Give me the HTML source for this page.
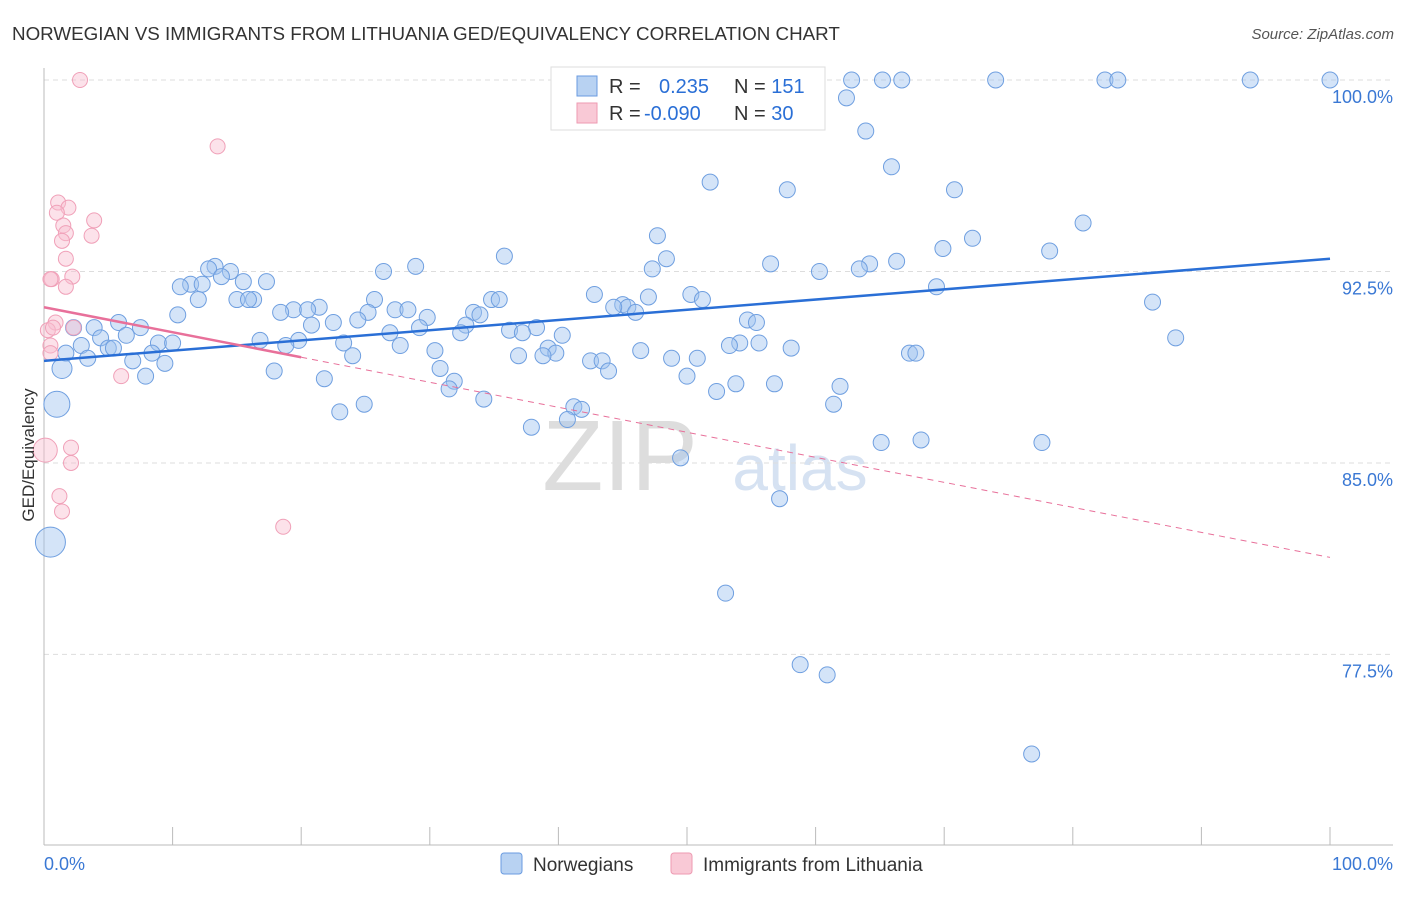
<!DOCTYPE html>
<html><head><meta charset="utf-8"><style>
body{margin:0;background:#fff;font-family:"Liberation Sans",sans-serif;}
svg text{font-family:"Liberation Sans",sans-serif;}
</style></head><body>
<svg id="c" width="1406" height="892">
<text x="12" y="40" font-size="18.8" fill="#333">NORWEGIAN VS IMMIGRANTS FROM LITHUANIA GED/EQUIVALENCY CORRELATION CHART</text>
<text x="1394" y="39" font-size="15" fill="#555" text-anchor="end" font-style="italic">Source: ZipAtlas.com</text>
<text x="620" y="490" font-size="100" fill="#ddd" text-anchor="middle" font-family="Liberation Serif">ZIP</text>
<text x="800" y="490" font-size="64" fill="#d6e2f2" text-anchor="middle">atlas</text>
<g id="grid"></g><g id="axes"></g><g id="pts"></g><g id="lines"></g>
<text transform="translate(34,455) rotate(-90)" font-size="17" fill="#333" text-anchor="middle">GED/Equivalency</text>
<g>
<rect x="551" y="67" width="274" height="63" fill="#fff" stroke="#ddd"/>
<rect x="577" y="76" width="20" height="20" fill="#b8d2f2" stroke="#6a9be0"/>
<rect x="577" y="103" width="20" height="20" fill="#f9c9d6" stroke="#ee9ab2"/>
<text x="609" y="93" font-size="20" fill="#333">R = <tspan fill="#2a6fd6" x="659">0.235</tspan><tspan x="734" fill="#333">N = </tspan><tspan fill="#2a6fd6">151</tspan></text>
<text x="609" y="120" font-size="20" fill="#333">R = <tspan fill="#2a6fd6" x="644">-0.090</tspan><tspan x="734" fill="#333">N = </tspan><tspan fill="#2a6fd6"> 30</tspan></text>
</g>
<g>
<rect x="501" y="853" width="21" height="21" rx="3" fill="#b8d2f2" stroke="#6a9be0"/>
<text x="533" y="871" font-size="19" fill="#333">Norwegians</text>
<rect x="671" y="853" width="21" height="21" rx="3" fill="#f9c9d6" stroke="#ee9ab2"/>
<text x="703" y="871" font-size="19" fill="#333">Immigrants from Lithuania</text>
</g>
</svg>
<script>
const yTicks=[100,92.5,85,77.5];
const yTickLabels=["100.0%","92.5%","85.0%","77.5%"];
const blueX=[60.1,62.8,65.2,66.7,74.0,82.5,83.5,93.8,100,62.4,63.9,65.9,51.8,57.8,70.8,80.8,47.7,72.2,69.9,78.2,35.8,48.4,66.3,56.5,64.2,63.4,47.3,28.9,13.3,12.8,14.5,26.4,60.3,13.8,17.3,15.5,11.4,10.6,12.3,69.4,42.8,50.3,47.0,51.2,15.0,16.3,15.9,12.0,25.7,34.8,35.4,86.2,21.4,19.4,20.5,45.0,45.4,44.3,46.0,18.4,25.2,27.3,28.3,33.4,33.9,10.4,29.8,54.7,55.4,24.4,22.5,5.8,7.5,3.9,20.8,29.2,32.8,2.3,26.9,32.4,38.3,36.2,37.2,40.3,4.4,6.4,16.8,19.8,23.3,27.7,55.6,54.1,53.3,88.0,58.1,18.8,8.9,10.0,2.9,5.0,5.4,46.4,39.2,39.8,8.4,1.7,30.4,24.0,36.9,38.8,3.4,48.8,50.8,67.3,67.8,6.9,9.4,42.5,43.4,1.4,17.9,30.8,43.9,7.9,21.8,50.0,31.9,53.8,56.8,31.5,52.3,61.9,34.2,1.0,24.9,61.4,41.2,23.0,41.8,40.7,37.9,65.1,68.2,77.6,49.5,57.2,0.5,53.0,58.8,60.9,76.8];
const blueY=[100,100,100,100,100,100,100,100,100,99.3,98.0,96.6,96.0,95.7,95.7,94.4,93.9,93.8,93.4,93.3,93.1,93.0,92.9,92.8,92.8,92.6,92.6,92.7,92.7,92.6,92.5,92.5,92.5,92.3,92.1,92.1,92.0,91.9,92.0,91.9,91.6,91.6,91.5,91.4,91.4,91.4,91.4,91.4,91.4,91.4,91.4,91.3,91.1,91.0,91.0,91.2,91.1,91.1,90.9,90.9,90.9,91.0,91.0,90.9,90.8,90.8,90.7,90.6,90.5,90.6,90.5,90.5,90.3,90.3,90.4,90.3,90.4,90.3,90.1,90.1,90.3,90.2,90.1,90.0,89.9,90.0,89.8,89.8,89.7,89.6,89.7,89.7,89.6,89.9,89.5,89.6,89.7,89.7,89.6,89.5,89.5,89.4,89.5,89.3,89.3,89.3,89.4,89.2,89.2,89.2,89.1,89.1,89.1,89.3,89.3,89.0,88.9,89.0,89.0,88.7,88.6,88.7,88.6,88.4,88.3,88.4,88.2,88.1,88.1,87.9,87.8,88.0,87.5,87.3,87.3,87.3,87.2,87.0,87.1,86.7,86.4,85.8,85.9,85.8,85.2,83.6,81.9,79.9,77.1,76.7,73.6];
const blueSizeIdx=[119,133,146];const blueSizes=[10,13,15];
const pinkX=[2.8,13.5,1.1,1.9,1.0,3.9,1.5,1.7,3.7,1.4,1.7,0.6,2.2,1.7,0.9,0.3,2.3,0.5,0.5,6.0,0.1,2.1,2.1,1.2,1.4,18.6,0.7,0.5];
const pinkY=[100,97.4,95.2,95.0,94.8,94.5,94.3,94.0,93.9,93.7,93.0,92.2,92.3,91.9,90.5,90.2,90.3,89.6,89.3,88.4,85.5,85.6,85.0,83.7,83.1,82.5,90.3,92.2];
const blueTrend=[89.0,93.0];
const pinkTrend=[91.1,81.3];
const X=v=>44+v*12.86, Y=v=>80+(100-v)*25.53;
const NS="http://www.w3.org/2000/svg";
function mk(par,tag,at){const e=document.createElementNS(NS,tag);for(const k in at)e.setAttribute(k,at[k]);document.getElementById(par).appendChild(e);return e;}
yTicks.forEach((t,i)=>{
 const g=mk('grid','line',{x1:44,x2:1393,y1:Y(t),y2:Y(t),stroke:'#ddd','stroke-dasharray':'5,4'});
 
 
 const tx=mk('grid','text',{x:1393,y:Y(t)+23,'font-size':18,fill:'#3a78d4','text-anchor':'end'});
 tx.textContent=yTickLabels[i];
 
 
});
let a=mk('axes','line',{x1:44,x2:44,y1:68,y2:845,stroke:'#bbb'});


a=mk('axes','line',{x1:44,x2:1393,y1:845,y2:845,stroke:'#bbb'});


for(let i=0;i<=10;i++){const t=mk('axes','line',{x1:X(i*10),x2:X(i*10),y1:827,y2:845,stroke:'#bbb'});
 
 }
let l=mk('axes','text',{x:44,y:870,'font-size':18,fill:'#3a78d4'});l.textContent='0.0%';


l=mk('axes','text',{x:1393,y:870,'font-size':18,fill:'#3a78d4','text-anchor':'end'});l.textContent='100.0%';


blueX.forEach((v,i)=>{const k=blueSizeIdx.indexOf(i);const r=k>=0?blueSizes[k]:8;
 const c=mk('pts','circle',{cx:X(v),cy:Y(blueY[i]),r:r,fill:'rgba(160,196,240,0.45)',stroke:'#6f9fe0','stroke-width':1});
 
 });
pinkX.forEach((v,i)=>{const r=i==20?12:7.5;
 const c=mk('pts','circle',{cx:X(v),cy:Y(pinkY[i]),r:r,fill:'rgba(248,190,208,0.45)',stroke:'#f0a0b8','stroke-width':1});
 
 });
let t=mk('lines','line',{x1:X(0),y1:Y(blueTrend[0]),x2:X(100),y2:Y(blueTrend[1]),stroke:'#2a6fd6','stroke-width':2.5});


const py=x=>pinkTrend[0]+(pinkTrend[1]-pinkTrend[0])*x/100;
t=mk('lines','line',{x1:X(0),y1:Y(py(0)),x2:X(20),y2:Y(py(20)),stroke:'#e8709a','stroke-width':2.5});


t=mk('lines','line',{x1:X(20),y1:Y(py(20)),x2:X(100),y2:Y(py(100)),stroke:'#e8709a','stroke-width':1,'stroke-dasharray':'6,5'});


</script>
</body></html>
